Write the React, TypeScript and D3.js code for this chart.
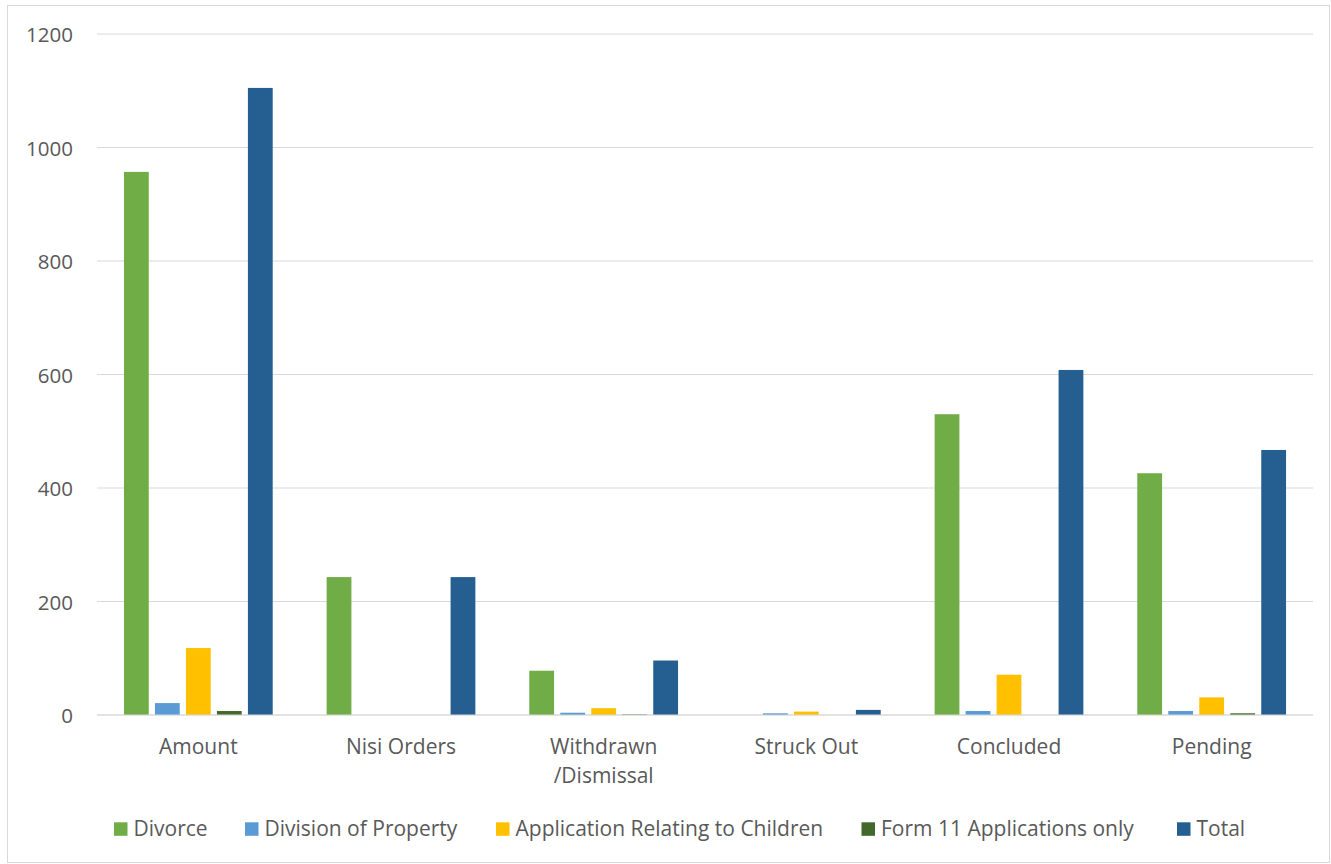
import React from "react";
import * as d3 from "d3";

const categories = ["Amount", "Nisi Orders", "Withdrawn\n/Dismissal", "Struck Out", "Concluded", "Pending"];
const seriesNames = ["Divorce", "Division of Property", "Application Relating to Children", "Form 11 Applications only", "Total"];
const divorce = [957, 243, 78, 0, 530, 426];
const divisionOfProperty = [21, 0, 4, 3, 7, 7];
const applicationChildren = [118, 0, 12, 6, 71, 31];
const form11 = [7, 0, 1, 0, 0, 3];
const total = [1105, 243, 96, 9, 608, 467];
const yTicks = [0, 200, 400, 600, 800, 1000, 1200];
const colors = ["#70AD47", "#5B9BD5", "#FFC000", "#43682B", "#255E91"];
const legendX = [114, 245, 496, 861.5, 1177];

const seriesValues = [divorce, divisionOfProperty, applicationChildren, form11, total];

export default function App() {
  const W = 1331, H = 864;
  const left = 97, right = 1313, top = 34, bottom = 715;
  const font = "'Open Sans', sans-serif";
  const x0 = d3.scaleBand<string>().domain(categories).range([left, right]).padding(0);
  const x1 = d3.scaleBand<string>().domain(seriesNames).range([0, x0.bandwidth()]).paddingInner(0.2).paddingOuter(0.87);
  const y = d3.scaleLinear().domain([0, 1200]).range([bottom, top]);

  return (
    <svg width={W} height={H} style={{ position: "absolute", left: 0, top: 0, background: "#fff" }} fontFamily={font}>
      <rect x={7.5} y={5.5} width={1322} height={857} fill="#fff" stroke="#d9d9d9" strokeWidth={1} />
      {yTicks.map((t) => (
        <g key={t}>
          <line x1={left} x2={right} y1={y(t)} y2={y(t)} stroke="#d9d9d9" strokeWidth={1} />
          <text x={73} y={y(t) + 8.3} textAnchor="end" fontSize={20.5} fill="#595959">{t}</text>
        </g>
      ))}
      {categories.map((c, ci) => (
        <g key={c}>
          {seriesNames.map((s, si) => {
            const v = seriesValues[si][ci];
            const h = bottom - y(v);
            if (v <= 0) return null;
            return (
              <rect key={s} x={(x0(c) as number) + (x1(s) as number)} y={y(v)} width={x1.bandwidth()} height={h} fill={colors[si]} />
            );
          })}
          <text textAnchor="middle" fontSize={21} fill="#595959">
            {c.split("\n").map((line, li) => (
              <tspan key={li} x={(x0(c) as number) + x0.bandwidth() / 2} y={754 + li * 29.3}>{line}</tspan>
            ))}
          </text>
        </g>
      ))}
      <line x1={left} x2={right} y1={bottom} y2={bottom} stroke="#d9d9d9" strokeWidth={1} />
      {seriesNames.map((s, si) => (
        <g key={s}>
          <rect x={legendX[si]} y={822.3} width={13.5} height={13.5} fill={colors[si]} />
          <text x={legendX[si] + 19.5} y={836} fontSize={21} fill="#595959">{s}</text>
        </g>
      ))}
    </svg>
  );
}
